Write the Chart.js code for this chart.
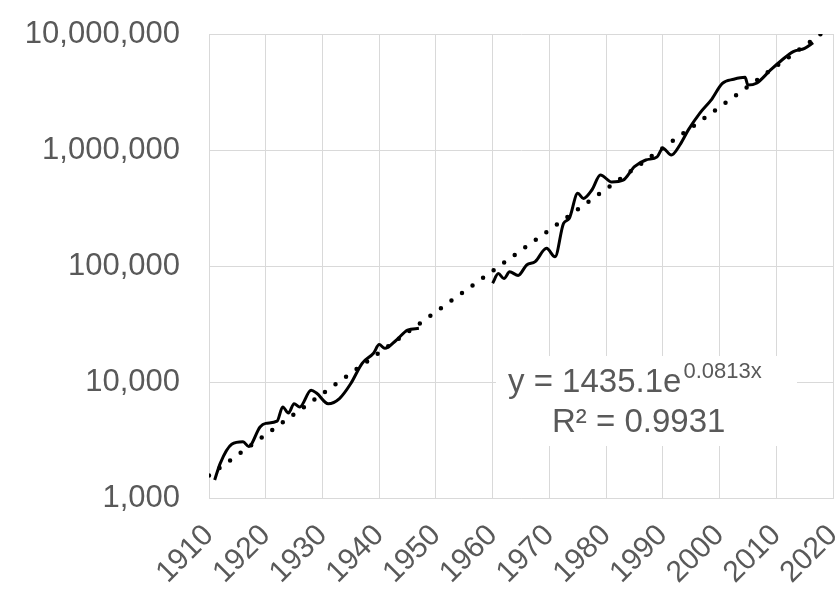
<!DOCTYPE html>
<html>
<head>
<meta charset="utf-8">
<title>Growth on a log scale</title>
<script src="https://cdn.jsdelivr.net/npm/chart.js@4/dist/chart.umd.min.js"></script>
<style>
  html, body { margin: 0; padding: 0; background: #fff; }
  #wrap { width: 835px; height: 589px; position: relative; }
</style>
</head>
<body>
<div id="wrap"><canvas id="chart"></canvas></div>
<script>
// values; null marks the gap in the record
const years = [1911, 1912, 1914, 1916, 1917, 1919, 1920, 1922, 1923, 1924, 1925, 1926, 1928, 1929, 1931, 1933, 1935, 1937, 1939, 1940, 1941, 1943, 1945, 1947,
  1953,
  1960, 1961, 1962, 1963, 1964.5, 1966, 1967.5, 1969.5, 1971, 1972.5, 1973.5, 1975, 1976, 1977.5, 1979, 1981, 1983, 1985, 1987, 1989, 1990, 1991.5, 1993, 1994.5, 1996.5, 1998.5, 2000.5, 2002.5, 2004.5, 2005, 2006.5, 2009, 2011, 2013, 2015, 2016.5];
const values = [1430, 2000, 2900, 3050, 2780, 4100, 4400, 4600, 6100, 5400, 6500, 6100, 8500, 8000, 6500, 7200, 9700, 14500, 17700, 21000, 19500, 22900, 28000, 29000,
  null,
  71000, 86000, 78000, 89000, 83000, 102000, 109000, 142000, 120000, 233000, 257000, 423000, 382000, 452000, 609000, 530000, 549000, 718000, 820000, 873000, 1035000, 905000, 1105000, 1490000, 2070000, 2690000, 3760000, 4070000, 4230000, 3630000, 3760000, 4900000, 5970000, 7050000, 7520000, 8400000];

// trend line end points (straight on the log axis)
const trendYears = [1910, 2020];
const trendValues = [1560, 11900000];

const yTicks = [1000, 10000, 100000, 1000000, 10000000];
const equationText = 'y = 1435.1e';
const exponentText = '0.0813x';
const rSquaredText = 'R² = 0.9931';

const textColor = '#595959';
const gridColor = '#d9d9d9';
const fontFamily = '"Liberation Sans", Arial, sans-serif';

const equationLabel = {
  id: 'equationLabel',
  afterDatasetsDraw(chart) {
    const ctx = chart.ctx;
    ctx.save();
    ctx.fillStyle = '#fff';
    ctx.fillRect(496, 356, 301, 90);
    ctx.fillStyle = textColor;
    ctx.textBaseline = 'alphabetic';
    ctx.textAlign = 'left';
    ctx.font = `33px ${fontFamily}`;
    ctx.fillText(equationText, 508, 392);
    const w = ctx.measureText(equationText).width;
    ctx.font = `22px ${fontFamily}`;
    ctx.fillText(exponentText, 508 + w + 2, 378);
    ctx.font = `33px ${fontFamily}`;
    ctx.fillText(rSquaredText, 552, 432);
    ctx.restore();
  }
};

const points = years.map((year, i) => ({ x: year, y: values[i] }));
const trendPoints = trendYears.map((year, i) => ({ x: year, y: trendValues[i] }));

new Chart(document.getElementById('chart'), {
  type: 'line',
  data: {
    datasets: [
      {
        data: points,
        borderColor: '#000',
        borderWidth: 3,
        pointRadius: 0,
        cubicInterpolationMode: 'monotone',
        spanGaps: false
      },
      {
        data: trendPoints,
        borderColor: '#000',
        borderWidth: 4.5,
        borderDash: [0, 13],
        borderCapStyle: 'round',
        pointRadius: 0
      }
    ]
  },
  options: {
    responsive: true,
    maintainAspectRatio: false,
    animation: false,
    layout: { padding: { top: 34, right: 2, left: 0, bottom: 0 } },
    plugins: { legend: { display: false }, tooltip: { enabled: false } },
    scales: {
      x: {
        type: 'linear',
        min: 1910,
        max: 2020,
        afterFit: (scale) => {
          scale.height = 91;
          scale.paddingLeft = 0;
          scale.paddingRight = 0;
        },
        ticks: {
          stepSize: 10,
          minRotation: 45,
          maxRotation: 45,
          padding: 20,
          color: textColor,
          font: { family: fontFamily, size: 30 },
          callback: (v) => String(v)
        },
        grid: { color: gridColor, drawTicks: false },
        border: { color: gridColor }
      },
      y: {
        type: 'logarithmic',
        min: 1000,
        max: 10000000,
        afterFit: (scale) => {
          scale.width = 209;
          scale.paddingTop = 0;
          scale.paddingBottom = 0;
        },
        afterBuildTicks: (scale) => { scale.ticks = yTicks.map((v) => ({ value: v })); },
        ticks: {
          padding: 29,
          color: textColor,
          font: { family: fontFamily, size: 31 },
          callback: (v) => Number(v).toLocaleString('en-US')
        },
        grid: { color: gridColor, drawTicks: false },
        border: { color: gridColor }
      }
    }
  },
  plugins: [equationLabel]
});
</script>
</body>
</html>
